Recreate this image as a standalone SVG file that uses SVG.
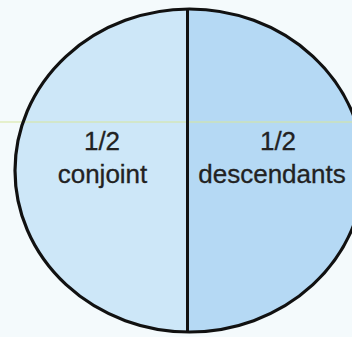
<svg xmlns="http://www.w3.org/2000/svg" width="352" height="337" viewBox="0 0 352 337">
  <style>
    .lbl { font-family: "Liberation Sans", Arial, sans-serif; font-size: 26px; fill: #222; stroke: #222; stroke-width: 0.3; text-anchor: middle; }
  </style>
  <defs>
    <clipPath id="leftClip"><rect x="0" y="0" width="187.5" height="337"/></clipPath>
    <clipPath id="rightClip"><rect x="187.5" y="0" width="170" height="337"/></clipPath>
  </defs>
  <rect x="0" y="0" width="352" height="337" fill="#f4fafc"/>
  <g id="left-half">
    <ellipse cx="189.5" cy="170.5" rx="174.5" ry="161.5" fill="#cde7f8" clip-path="url(#leftClip)"/>
  </g>
  <g id="right-half">
    <ellipse cx="189.5" cy="170.5" rx="174.5" ry="161.5" fill="#b5d9f4" clip-path="url(#rightClip)"/>
  </g>
  <line x1="0" y1="122" x2="352" y2="122" stroke="#d7e69c" stroke-width="1"/>
  <g id="connectors">
    <ellipse cx="189.5" cy="170.5" rx="174.5" ry="161.5" fill="none" stroke="#111" stroke-width="3.2"/>
    <line x1="187.5" y1="9" x2="187.5" y2="332" stroke="#111" stroke-width="3"/>
  </g>
  <g id="label-conjoint">
    <text class="lbl" x="102" y="150">1/2</text>
    <text class="lbl" x="102.5" y="183">conjoint</text>
  </g>
  <g id="label-descendants">
    <text class="lbl" x="278" y="150">1/2</text>
    <text class="lbl" x="272" y="183">descendants</text>
  </g>
</svg>
